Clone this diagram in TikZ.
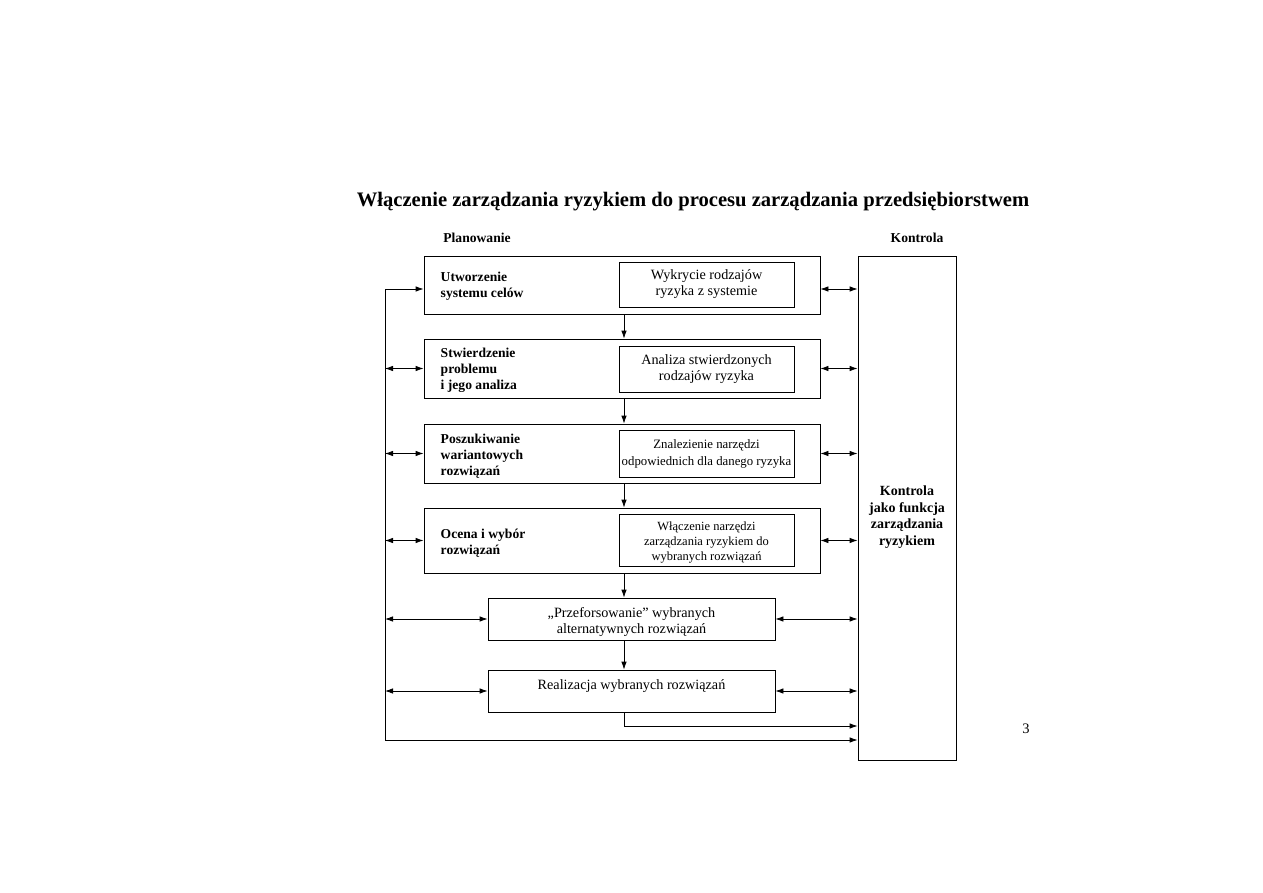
\documentclass[tikz,border=0pt]{standalone}
\usepackage{fontspec}
\setmainfont{Liberation Serif}
\usetikzlibrary{arrows.meta,calc}
\begin{document}
\begin{tikzpicture}[x=1pt,y=-1pt,
  line width=0.8pt,
  tip/.style={-{Latex[length=8pt,width=5.5pt]}},
  dtip/.style={{Latex[length=8pt,width=5.5pt]}-{Latex[length=8pt,width=5.5pt]}},
  outer/.style={draw,inner sep=0pt},
  inbox/.style={draw,inner sep=0pt,align=center,minimum width=175pt},
  lab/.style={anchor=west,align=left,font=\fontsize{13.6}{16}\selectfont\bfseries},
  txt/.style={font=\fontsize{14.2}{16}\selectfont}]
\useasboundingbox (0,0) rectangle (1263,893);
\node[font=\fontsize{20.6}{23}\selectfont\bfseries] (title) at (693,202) {Włączenie zarządzania ryzykiem do procesu zarządzania przedsiębiorstwem};
\node[font=\fontsize{13.6}{15}\selectfont\bfseries] (plan) at (477,238) {Planowanie};
\node[font=\fontsize{13.6}{15}\selectfont\bfseries] (kontr) at (917,238) {Kontrola};
% outer boxes
\node[outer,minimum width=396pt,minimum height=58pt] (b1) at (622,285) {};
\node[outer,minimum width=396pt,minimum height=59pt] (b2) at (622,368.5) {};
\node[outer,minimum width=396pt,minimum height=59pt] (b3) at (622,453.5) {};
\node[outer,minimum width=396pt,minimum height=65pt] (b4) at (622,540.5) {};
\node[outer,minimum width=287pt,minimum height=42pt] (b5) at (631.5,619) {};
\node[txt,align=center] (t5) at (631.5,622) {„Przeforsowanie'' wybranych\\alternatywnych rozwiązań};
\node[outer,minimum width=287pt,minimum height=42pt] (b6) at (631.5,691) {};
\node[txt] (t6) at (631.5,686) {Realizacja wybranych rozwiązań};
\node[outer,minimum width=98pt,minimum height=504pt] (K) at (907,508) {};
\node[align=center,font=\fontsize{14}{16.7}\selectfont\bfseries] (kt) at (907,517) {Kontrola\\jako funkcja\\zarządzania\\ryzykiem};
% labels
\node[lab] (l1) at (437,286) {Utworzenie\\systemu celów};
\node[lab] (l2) at (437,370) {Stwierdzenie\\problemu\\i jego analiza};
\node[lab] (l3) at (437,456) {Poszukiwanie\\wariantowych\\rozwiązań};
\node[lab] (l4) at (437,543) {Ocena i wybór\\rozwiązań};
% inner boxes
\node[inbox,txt,minimum height=45pt] (i1) at (706.5,284.5) {Wykrycie rodzajów\\ryzyka z systemie};
\node[inbox,txt,minimum height=46pt] (i2) at (706.5,369) {Analiza stwierdzonych\\rodzajów ryzyka};
\node[inbox,minimum height=47pt,font=\fontsize{12.8}{17}\selectfont] (i3) at (706.5,453.5) {Znalezienie narzędzi\\odpowiednich dla danego ryzyka};
\node[inbox,minimum height=52pt] (i4) at (706.5,540) {};
\node[align=center,font=\fontsize{12.5}{15}\selectfont] (t4) at (706.5,543) {Włączenie narzędzi\\zarządzania ryzykiem do\\wybranych rozwiązań};
\node[font=\fontsize{14.5}{17}\selectfont] (pg) at (1026,729) {3};
% helper coordinates
\coordinate (X) at (624,0);
\coordinate (L) at (385,0);
\coordinate (lb) at (385,740);
\coordinate (c6) at (624,726);
\coordinate (r1) at ($(b1.east)+(0,4)$);
\coordinate (w1) at ($(b1.west)+(0,4)$);
% vertical flow
\draw[tip] (b1.south -| X) -- (b2.north -| X);
\draw[tip] (b2.south -| X) -- (b3.north -| X);
\draw[tip] (b3.south -| X) -- (b4.north -| X);
\draw[tip] (b4.south -| X) -- (b5.north -| X);
\draw[tip] (b5.south -| X) -- (b6.north -| X);
\draw[tip] (b6.south -| X) -- (c6) -- (c6 -| K.west);
% left side
\draw (lb) -- (L |- w1);
\draw[tip] (L |- w1) -- (w1);
\draw[dtip] (L |- b2.west) -- (b2.west);
\draw[dtip] (L |- b3.west) -- (b3.west);
\draw[dtip] (L |- b4.west) -- (b4.west);
\draw[dtip] (L |- b5.west) -- (b5.west);
\draw[dtip] (L |- b6.west) -- (b6.west);
\draw[tip] (lb) -- (lb -| K.west);
% right side
\draw[dtip] (r1) -- (r1 -| K.west);
\draw[dtip] (b2.east) -- (b2.east -| K.west);
\draw[dtip] (b3.east) -- (b3.east -| K.west);
\draw[dtip] (b4.east) -- (b4.east -| K.west);
\draw[dtip] (b5.east) -- (b5.east -| K.west);
\draw[dtip] (b6.east) -- (b6.east -| K.west);
\end{tikzpicture}
\end{document}
